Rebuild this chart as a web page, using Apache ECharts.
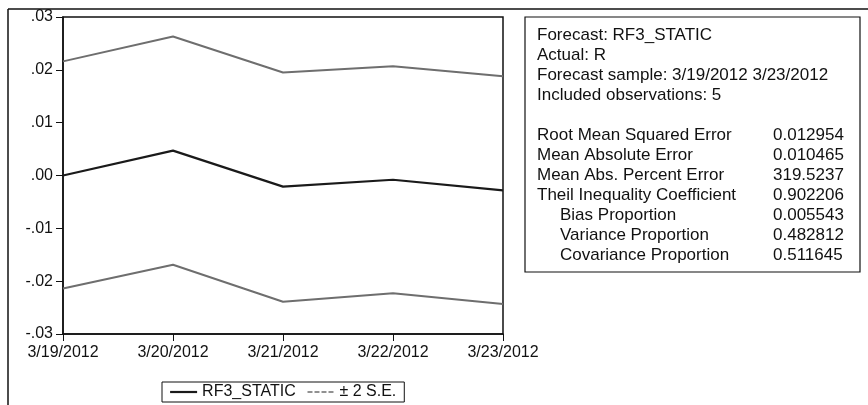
<!DOCTYPE html>
<html>
<head>
<meta charset="utf-8">
<script src="https://cdn.jsdelivr.net/npm/echarts@6/dist/echarts.min.js"></script>
<style>
  html, body { margin: 0; padding: 0; background: #fff; }
  #main { width: 868px; height: 405px; }
</style>
</head>
<body>
<div id="main"></div>
<script>
// dates on the x axis
var dates = ['3/19/2012', '3/20/2012', '3/21/2012', '3/22/2012', '3/23/2012'];
// forecast and the +/- 2 S.E. band
var forecast = [0.0000, 0.0047, -0.0021, -0.0008, -0.0028];
var upperBand = [0.0216, 0.0263, 0.0195, 0.0207, 0.0188];
var lowerBand = [-0.0214, -0.0169, -0.0239, -0.0223, -0.0243];

// text of the stats box
var headerLines = ['Forecast: RF3_STATIC', 'Actual: R', 'Forecast sample: 3/19/2012 3/23/2012', 'Included observations: 5'];
var statNames = ['Root Mean Squared Error', 'Mean Absolute Error', 'Mean Abs. Percent Error',
    'Theil Inequality Coefficient', '   Bias Proportion', '   Variance Proportion', '   Covariance Proportion'];
var statValues = ['0.012954', '0.010465', '319.5237', '0.902206', '0.005543', '0.482812', '0.511645'];

var font = "'Liberation Sans', Arial, sans-serif";
var chart = echarts.init(document.getElementById('main'));

var graphics = [];
// outer frame (top and left edges only visible)
graphics.push({ type: 'line', shape: { x1: 8, y1: 9, x2: 868, y2: 9 }, style: { stroke: '#111', lineWidth: 1.5 } });
graphics.push({ type: 'line', shape: { x1: 8, y1: 9, x2: 8, y2: 405 }, style: { stroke: '#111', lineWidth: 1.5 } });
// stats box
graphics.push({ type: 'rect', shape: { x: 525, y: 17, width: 335, height: 255 }, style: { fill: '#fff', stroke: '#111', lineWidth: 1.2 } });
for (var i = 0; i < headerLines.length; i++) {
    graphics.push({ type: 'text', x: 537, y: 35 + i * 20, style: { text: headerLines[i], font: '17px ' + font, fill: '#111', textVerticalAlign: 'middle' } });
}
for (var i = 0; i < statNames.length; i++) {
    var nm = statNames[i];
    var indent = nm.indexOf('   ') === 0 ? 23 : 0;
    graphics.push({ type: 'text', x: 537 + indent, y: 135 + i * 20, style: { text: nm.trim(), font: '17px ' + font, fill: '#111', textVerticalAlign: 'middle' } });
    graphics.push({ type: 'text', x: 773, y: 135 + i * 20, style: { text: statValues[i], font: '17px ' + font, fill: '#111', textVerticalAlign: 'middle' } });
}

var option = {
    animation: false,
    backgroundColor: '#fff',
    grid: { left: 63, right: 365, top: 17, bottom: 71, show: true, borderColor: '#111', borderWidth: 1.5, backgroundColor: 'transparent' },
    xAxis: {
        type: 'category',
        data: dates,
        boundaryGap: false,
        axisLine: { onZero: false, lineStyle: { color: '#111', width: 1.5 } },
        axisTick: { show: true, inside: false, length: 7, lineStyle: { color: '#111' } },
        axisLabel: { color: '#111', fontSize: 16, fontFamily: font, margin: 11 },
        splitLine: { show: false }
    },
    yAxis: {
        type: 'value',
        min: -0.03,
        max: 0.03,
        interval: 0.01,
        axisLine: { show: true, lineStyle: { color: '#111', width: 1.5 } },
        axisTick: { show: true, length: 7, lineStyle: { color: '#111' } },
        axisLabel: {
            color: '#111', fontSize: 16, fontFamily: font, margin: 10,
            formatter: function (v) {
                var s = Math.abs(v).toFixed(2).replace(/^0/, '');
                return (v < -1e-9 ? '-' : '') + s;
            }
        },
        splitLine: { show: false }
    },
    legend: {
        left: 162,
        top: 382,
        padding: [2, 8, 2, 7],
        borderColor: '#111',
        borderWidth: 1,
        itemGap: 11,
        itemWidth: 27,
        itemHeight: 14,
        textStyle: { color: '#111', fontSize: 16, fontFamily: font },
        data: [
            { name: 'RF3_STATIC', itemStyle: { opacity: 0 }, lineStyle: { width: 2.2, color: '#1a1a1a' } },
            { name: '± 2 S.E.', itemStyle: { opacity: 0 }, lineStyle: { type: [5, 2], width: 1.5, color: '#6e6e6e' } }
        ]
    },
    series: [
        {
            name: 'RF3_STATIC', type: 'line', data: forecast, symbol: 'none',
            lineStyle: { color: '#1a1a1a', width: 2.2 }, itemStyle: { color: '#1a1a1a' }, z: 3
        },
        {
            name: '± 2 S.E.', type: 'line', data: upperBand, symbol: 'none',
            lineStyle: { color: '#6e6e6e', width: 2 }, itemStyle: { color: '#6e6e6e' }
        },
        {
            name: '± 2 S.E.', type: 'line', data: lowerBand, symbol: 'none',
            lineStyle: { color: '#6e6e6e', width: 2 }, itemStyle: { color: '#6e6e6e' }
        }
    ],
    graphic: graphics
};
chart.setOption(option);
</script>
</body>
</html>
